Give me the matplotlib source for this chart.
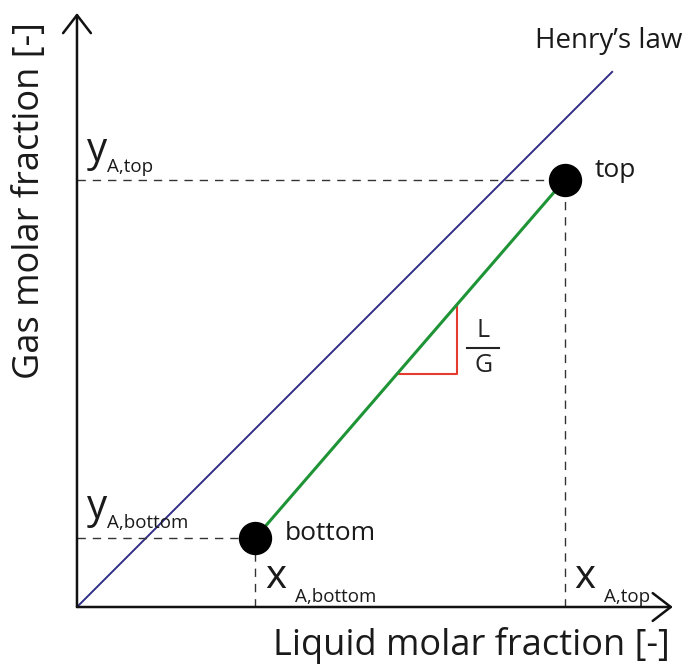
import matplotlib.pyplot as plt
import numpy as np

plt.rcParams['font.family'] = ['Open Sans', 'DejaVu Sans']

# operating points (liquid x, gas y)
x_points = [0.297, 0.813]
y_points = [0.115, 0.712]
point_names = ['bottom', 'top']

# Henry's law line y = m x
henry_slope = 1.0
henry_x_end = 0.893

# slope triangle on the operating line
tri_x = [0.533, 0.633]

x_label = 'Liquid molar fraction [-]'
y_label = 'Gas molar fraction [-]'

fig = plt.figure(figsize=(6.94, 6.64), dpi=100)
ax = fig.add_axes([0, 0, 1, 1])
ax.set_xlim(-0.1283, 1.0283)
ax.set_ylim(-0.095, 1.0117)
ax.axis('off')

# axes with open arrow heads
arrow = dict(arrowstyle='->,head_length=0.65,head_width=0.5', color='#111111',
             lw=1.8, mutation_scale=20, shrinkA=0, shrinkB=0)
ax.annotate('', xy=(0.993, 0), xytext=(0, 0), arrowprops=arrow)
ax.annotate('', xy=(0, 0.99), xytext=(0, 0), arrowprops=arrow)

# Henry's law
hx = np.array([0, henry_x_end])
ax.plot(hx, henry_slope * hx, color='#302f85', lw=1.4, solid_capstyle='butt')

# operating line
ax.plot(x_points, y_points, color='#1f9436', lw=2.2, zorder=3)

# dashed projections to the axes
for xp, yp in zip(x_points, y_points):
    ax.plot([0, xp], [yp, yp], color='#333333', lw=1, dashes=(6, 5))
    ax.plot([xp, xp], [0, yp], color='#333333', lw=1, dashes=(6, 5))

ax.plot(x_points, y_points, 'o', color='black', markersize=23, zorder=4)

# L/G triangle
slope = (y_points[1] - y_points[0]) / (x_points[1] - x_points[0])
ty0 = y_points[0] + slope * (tri_x[0] - x_points[0])
ty1 = y_points[0] + slope * (tri_x[1] - x_points[0])
ax.plot([tri_x[0], tri_x[1], tri_x[1]], [ty0, ty0, ty1], color='#e53a2e', lw=1.5, zorder=2)
lg_x = tri_x[1] + 0.044
lg_y = ty0 + 0.38 * (ty1 - ty0)
ax.text(lg_x, lg_y + 0.008, 'L', fontsize=18, ha='center', va='bottom', color='#222222')
ax.text(lg_x, lg_y - 0.008, 'G', fontsize=18, ha='center', va='top', color='#222222')
ax.plot([lg_x - 0.027, lg_x + 0.027], [lg_y, lg_y], color='#222222', lw=1.5)

# text labels
tc = '#1a1a1a'
ax.text(0.763, 0.932, 'Henry\u2019s law', fontsize=20, color=tc, va='baseline')
ax.text(x_points[1] + 0.05, y_points[1] + 0.005, point_names[1], fontsize=19, color=tc, va='baseline')
ax.text(x_points[0] + 0.05, y_points[0] - 0.003, point_names[0], fontsize=19, color=tc, va='baseline')

ax.text(0.017, y_points[1] + 0.031, 'y', fontsize=29, color=tc, va='baseline')
ax.text(0.05, y_points[1] + 0.013, 'A,top', fontsize=13.5, color=tc, va='baseline')
ax.text(0.017, y_points[0] + 0.033, 'y', fontsize=29, color=tc, va='baseline')
ax.text(0.05, y_points[0] + 0.016, 'A,bottom', fontsize=13.5, color=tc, va='baseline')

ax.text(x_points[0] + 0.016, 0.032, 'x', fontsize=29, color=tc, va='baseline')
ax.text(x_points[0] + 0.066, 0.008, 'A,bottom', fontsize=13.5, color=tc, va='baseline')
ax.text(x_points[1] + 0.015, 0.032, 'x', fontsize=29, color=tc, va='baseline')
ax.text(x_points[1] + 0.065, 0.008, 'A,top', fontsize=13.5, color=tc, va='baseline')

ax.text(0.988, -0.08, x_label, fontsize=26, color=tc, ha='right', va='baseline')
ax.text(-0.078, 0.678, y_label, fontsize=26, color=tc, ha='center', va='center', rotation=90)

fig.savefig('out.png', dpi=100, facecolor='white')
